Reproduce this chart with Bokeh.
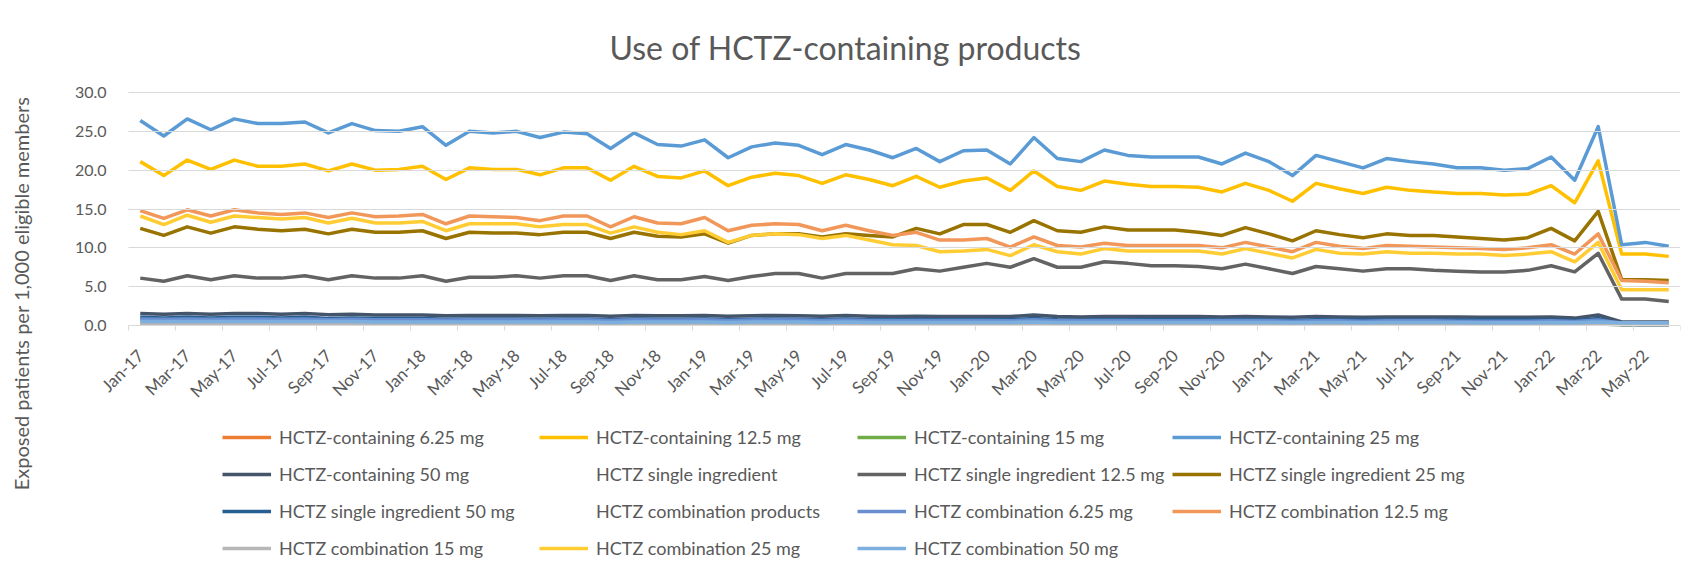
import math
from bokeh.plotting import figure
from bokeh.models import (ColumnDataSource, Range1d, FixedTicker, NumeralTickFormatter,
                          Legend, LegendItem, Label)
from bokeh.embed import file_html
from bokeh.resources import INLINE

# ---------------- data ----------------
MONTHS = ["Jan", "Feb", "Mar", "Apr", "May", "Jun", "Jul", "Aug", "Sep", "Oct", "Nov", "Dec"]
month_labels = [f"{m}-{y}" for y in range(17, 23) for m in MONTHS][:66]   # Jan-17 .. Jun-22
y_ticks = [0, 5, 10, 15, 20, 25, 30]

containing_6_25 = [0.85, 0.8, 0.85, 0.8, 0.85, 0.85, 0.8, 0.85, 0.75, 0.8, 0.75,
                   0.75, 0.75, 0.7, 0.75, 0.75, 0.75, 0.7, 0.75, 0.75, 0.65, 0.75,
                   0.7, 0.7, 0.75, 0.65, 0.7, 0.75, 0.7, 0.65, 0.7, 0.65, 0.65,
                   0.65, 0.65, 0.65, 0.65, 0.6, 0.75, 0.6, 0.6, 0.65, 0.65, 0.6,
                   0.6, 0.6, 0.6, 0.65, 0.6, 0.55, 0.6, 0.6, 0.55, 0.6, 0.6,
                   0.6, 0.55, 0.55, 0.55, 0.55, 0.6, 0.5, 0.7, 0.3, 0.3, 0.3]
containing_12_5 = [21.1, 19.3, 21.3, 20.1, 21.3, 20.5, 20.5, 20.8, 19.9, 20.8, 20.0,
                   20.1, 20.5, 18.8, 20.3, 20.1, 20.1, 19.4, 20.3, 20.3, 18.7, 20.5,
                   19.2, 19.0, 19.9, 18.0, 19.1, 19.6, 19.3, 18.3, 19.4, 18.8, 18.0,
                   19.2, 17.8, 18.6, 19.0, 17.4, 19.9, 17.9, 17.4, 18.6, 18.2, 17.9,
                   17.9, 17.8, 17.2, 18.3, 17.4, 16.0, 18.3, 17.6, 17.0, 17.8, 17.4,
                   17.2, 17.0, 17.0, 16.8, 16.9, 18.0, 15.8, 21.2, 9.2, 9.2, 8.9]
containing_15 = [0.2, 0.2, 0.2, 0.2, 0.2, 0.2, 0.2, 0.2, 0.2, 0.2, 0.2,
                 0.2, 0.2, 0.2, 0.2, 0.2, 0.2, 0.2, 0.2, 0.2, 0.15, 0.2,
                 0.2, 0.2, 0.2, 0.15, 0.2, 0.2, 0.2, 0.15, 0.2, 0.15, 0.15,
                 0.15, 0.15, 0.15, 0.15, 0.15, 0.2, 0.15, 0.15, 0.15, 0.15, 0.15,
                 0.15, 0.15, 0.15, 0.15, 0.15, 0.15, 0.15, 0.15, 0.15, 0.15, 0.15,
                 0.15, 0.15, 0.15, 0.15, 0.15, 0.15, 0.15, 0.2, 0.1, 0.1, 0.1]
containing_25 = [26.4, 24.4, 26.6, 25.2, 26.6, 26.0, 26.0, 26.2, 24.8, 26.0, 25.1,
                 25.0, 25.6, 23.2, 25.0, 24.8, 25.0, 24.2, 24.9, 24.7, 22.8, 24.8,
                 23.3, 23.1, 23.9, 21.6, 23.0, 23.5, 23.2, 22.0, 23.3, 22.6, 21.6,
                 22.8, 21.1, 22.5, 22.6, 20.8, 24.2, 21.5, 21.1, 22.6, 21.9, 21.7,
                 21.7, 21.7, 20.8, 22.2, 21.1, 19.3, 21.9, 21.1, 20.3, 21.5, 21.1,
                 20.8, 20.3, 20.3, 20.0, 20.2, 21.7, 18.7, 25.6, 10.4, 10.7, 10.2]
containing_50 = [1.55, 1.45, 1.55, 1.45, 1.55, 1.55, 1.45, 1.55, 1.4, 1.45, 1.35,
                 1.35, 1.35, 1.25, 1.3, 1.3, 1.3, 1.25, 1.3, 1.3, 1.2, 1.3,
                 1.25, 1.25, 1.3, 1.2, 1.25, 1.3, 1.25, 1.2, 1.3, 1.2, 1.15,
                 1.2, 1.15, 1.15, 1.15, 1.15, 1.35, 1.15, 1.1, 1.15, 1.15, 1.15,
                 1.15, 1.15, 1.1, 1.15, 1.1, 1.05, 1.15, 1.1, 1.05, 1.1, 1.1,
                 1.1, 1.1, 1.05, 1.05, 1.05, 1.1, 0.95, 1.35, 0.45, 0.45, 0.45]
single_ingredient = []          # series listed in the legend, no line drawn
single_12_5 = [6.1, 5.7, 6.4, 5.9, 6.4, 6.1, 6.1, 6.4, 5.9, 6.4, 6.1,
               6.1, 6.4, 5.7, 6.2, 6.2, 6.4, 6.1, 6.4, 6.4, 5.8, 6.4,
               5.9, 5.9, 6.3, 5.8, 6.3, 6.7, 6.7, 6.1, 6.7, 6.7, 6.7,
               7.3, 7.0, 7.5, 8.0, 7.5, 8.6, 7.5, 7.5, 8.2, 8.0, 7.7,
               7.7, 7.6, 7.3, 7.9, 7.3, 6.7, 7.6, 7.3, 7.0, 7.3, 7.3,
               7.1, 7.0, 6.9, 6.9, 7.1, 7.7, 6.9, 9.3, 3.4, 3.4, 3.1]
single_25 = [12.5, 11.6, 12.7, 11.9, 12.7, 12.4, 12.2, 12.4, 11.8, 12.4, 12.0,
             12.0, 12.2, 11.2, 12.0, 11.9, 11.9, 11.7, 12.0, 12.0, 11.2, 12.0,
             11.5, 11.4, 11.8, 10.6, 11.6, 11.8, 11.8, 11.4, 11.8, 11.6, 11.4,
             12.5, 11.8, 13.0, 13.0, 12.0, 13.5, 12.2, 12.0, 12.7, 12.3, 12.3,
             12.3, 12.0, 11.6, 12.6, 11.8, 10.9, 12.2, 11.7, 11.3, 11.8, 11.6,
             11.6, 11.4, 11.2, 11.0, 11.3, 12.5, 10.9, 14.7, 5.9, 5.9, 5.8]
single_50 = [1.05, 0.95, 1.05, 0.95, 1.05, 1.05, 0.95, 1.05, 0.9, 0.95, 0.9,
             0.9, 0.9, 0.8, 0.85, 0.85, 0.85, 0.8, 0.85, 0.85, 0.75, 0.85,
             0.8, 0.8, 0.85, 0.75, 0.8, 0.85, 0.8, 0.75, 0.85, 0.75, 0.75,
             0.75, 0.75, 0.75, 0.75, 0.75, 0.9, 0.75, 0.7, 0.75, 0.75, 0.75,
             0.75, 0.75, 0.7, 0.75, 0.7, 0.65, 0.75, 0.7, 0.7, 0.7, 0.7,
             0.7, 0.7, 0.7, 0.7, 0.7, 0.7, 0.6, 0.9, 0.1, 0.1, 0.1]
combination_products = []       # series listed in the legend, no line drawn
combination_6_25 = [0.85, 0.8, 0.85, 0.8, 0.85, 0.85, 0.8, 0.85, 0.75, 0.8, 0.75,
                    0.75, 0.75, 0.7, 0.75, 0.75, 0.75, 0.7, 0.75, 0.75, 0.65, 0.75,
                    0.7, 0.7, 0.75, 0.65, 0.7, 0.75, 0.7, 0.65, 0.7, 0.65, 0.65,
                    0.65, 0.65, 0.65, 0.65, 0.6, 0.75, 0.6, 0.6, 0.65, 0.65, 0.6,
                    0.6, 0.6, 0.6, 0.65, 0.6, 0.55, 0.6, 0.6, 0.55, 0.6, 0.6,
                    0.6, 0.55, 0.55, 0.55, 0.55, 0.6, 0.5, 0.7, 0.3, 0.3, 0.3]
combination_12_5 = [14.8, 13.8, 14.9, 14.1, 14.9, 14.5, 14.3, 14.5, 13.9, 14.5, 14.0,
                    14.1, 14.3, 13.1, 14.1, 14.0, 13.9, 13.5, 14.1, 14.1, 12.7, 14.0,
                    13.2, 13.1, 13.9, 12.2, 12.9, 13.1, 13.0, 12.2, 12.9, 12.2, 11.6,
                    12.0, 11.0, 11.0, 11.2, 10.1, 11.4, 10.3, 10.1, 10.6, 10.3, 10.3,
                    10.3, 10.3, 10.0, 10.7, 10.1, 9.5, 10.7, 10.2, 9.9, 10.3, 10.2,
                    10.1, 10.0, 9.9, 9.8, 10.0, 10.4, 9.2, 11.8, 5.8, 5.7, 5.5]
combination_15 = [0.2, 0.2, 0.2, 0.2, 0.2, 0.2, 0.2, 0.2, 0.2, 0.2, 0.2,
                  0.2, 0.2, 0.2, 0.2, 0.2, 0.2, 0.2, 0.2, 0.2, 0.15, 0.2,
                  0.2, 0.2, 0.2, 0.15, 0.2, 0.2, 0.2, 0.15, 0.2, 0.15, 0.15,
                  0.15, 0.15, 0.15, 0.15, 0.15, 0.2, 0.15, 0.15, 0.15, 0.15, 0.15,
                  0.15, 0.15, 0.15, 0.15, 0.15, 0.15, 0.15, 0.15, 0.15, 0.15, 0.15,
                  0.15, 0.15, 0.15, 0.15, 0.15, 0.15, 0.15, 0.2, 0.1, 0.1, 0.1]
combination_25 = [14.1, 13.0, 14.2, 13.3, 14.1, 13.9, 13.7, 13.9, 13.2, 13.8, 13.2,
                  13.2, 13.4, 12.2, 13.1, 13.1, 13.1, 12.7, 13.0, 13.0, 11.9, 12.7,
                  12.0, 11.7, 12.2, 10.7, 11.6, 11.8, 11.7, 11.2, 11.6, 11.0, 10.4,
                  10.3, 9.5, 9.6, 9.8, 9.0, 10.4, 9.5, 9.2, 9.9, 9.6, 9.6,
                  9.6, 9.6, 9.2, 9.9, 9.3, 8.7, 9.8, 9.3, 9.2, 9.5, 9.3,
                  9.3, 9.2, 9.2, 9.0, 9.2, 9.5, 8.2, 10.7, 4.6, 4.6, 4.6]
combination_50 = [0.5, 0.5, 0.5, 0.5, 0.5, 0.5, 0.5, 0.5, 0.5, 0.5, 0.45,
                  0.45, 0.45, 0.45, 0.45, 0.45, 0.45, 0.45, 0.45, 0.45, 0.4, 0.45,
                  0.45, 0.45, 0.45, 0.4, 0.45, 0.45, 0.45, 0.4, 0.45, 0.4, 0.4,
                  0.4, 0.4, 0.4, 0.4, 0.4, 0.45, 0.4, 0.4, 0.4, 0.4, 0.4,
                  0.4, 0.4, 0.4, 0.4, 0.4, 0.35, 0.4, 0.4, 0.35, 0.4, 0.4,
                  0.4, 0.4, 0.35, 0.35, 0.35, 0.4, 0.35, 0.45, 0.35, 0.35, 0.35]

series = [
    ("HCTZ-containing 6.25 mg", "#ED7D31", containing_6_25),
    ("HCTZ-containing 12.5 mg", "#FFC000", containing_12_5),
    ("HCTZ-containing 15 mg", "#70AD47", containing_15),
    ("HCTZ-containing 25 mg", "#5B9BD5", containing_25),
    ("HCTZ-containing 50 mg", "#44546A", containing_50),
    ("HCTZ single ingredient", "#9E480E", single_ingredient),
    ("HCTZ single ingredient 12.5 mg", "#636363", single_12_5),
    ("HCTZ single ingredient 25 mg", "#997300", single_25),
    ("HCTZ single ingredient 50 mg", "#255E91", single_50),
    ("HCTZ combination products", "#43682B", combination_products),
    ("HCTZ combination 6.25 mg", "#698ED0", combination_6_25),
    ("HCTZ combination 12.5 mg", "#F1975A", combination_12_5),
    ("HCTZ combination 15 mg", "#B7B7B7", combination_15),
    ("HCTZ combination 25 mg", "#FFCD33", combination_25),
    ("HCTZ combination 50 mg", "#7CAFDD", combination_50),
]

# ---------------- layout constants (pixels) ----------------
FONT = "Lato"
TXT = "#595959"
GRID = "#D9D9D9"
W, H = 1685, 566
PLOT_TOP, PLOT_BOTTOM = 92, 325      # pixel rows of the values 30 and 0
PLOT_L, PLOT_R = 128, 1680
Y_MAX = 30
N = len(month_labels)
month_px = (PLOT_R - PLOT_L) / N
px_per_unit = (PLOT_BOTTOM - PLOT_TOP) / Y_MAX
# The frame covers the whole canvas so that no text is clipped; the axes are
# drawn at fixed positions inside it.
x_start = -0.5 - PLOT_L / month_px
y_hi = Y_MAX + PLOT_TOP / px_per_unit
y_lo = -(H - PLOT_BOTTOM) / px_per_unit

p = figure(width=W, height=H, output_backend="svg", toolbar_location=None,
           x_range=Range1d(x_start, N - 0.5), y_range=Range1d(y_lo, y_hi),
           min_border_left=0, min_border_right=W - PLOT_R, min_border_top=0,
           min_border_bottom=0, title=None)
p.outline_line_color = None
p.background_fill_color = "white"
p.border_fill_color = "white"
p.xgrid.visible = False
p.ygrid.visible = False

# x axis at value 0: labels every 2 months, tick marks between categories
p.xaxis.fixed_location = 0
p.xaxis.bounds = (-0.5, N - 0.5)
p.xaxis.ticker = FixedTicker(ticks=list(range(0, N, 2)),
                             minor_ticks=[i - 0.5 for i in range(0, N + 1, 2)])
p.xaxis.major_label_overrides = {i: month_labels[i] for i in range(0, N, 2)}
p.xaxis.major_label_orientation = math.pi / 4
p.xaxis.major_label_standoff = 22
p.xaxis.major_tick_out = 0
p.xaxis.major_tick_in = 0
p.xaxis.minor_tick_out = 5
p.xaxis.minor_tick_in = 0
p.xaxis.minor_tick_line_color = GRID
p.xaxis.axis_line_color = GRID
p.xaxis.major_label_text_font = FONT
p.xaxis.major_label_text_font_size = "17px"
p.xaxis.major_label_text_color = TXT

# y axis at the plot's left edge; its inward ticks form the horizontal gridlines
p.yaxis.fixed_location = -0.5
p.yaxis.bounds = (0, Y_MAX)
p.yaxis.ticker = FixedTicker(ticks=y_ticks)
p.yaxis.formatter = NumeralTickFormatter(format="0.0")
p.yaxis.axis_line_color = None
p.yaxis.major_tick_out = 0
p.yaxis.major_tick_in = PLOT_R - PLOT_L
p.yaxis.major_tick_line_color = GRID
p.yaxis.major_tick_line_width = 1
p.yaxis.minor_tick_out = 0
p.yaxis.minor_tick_in = 0
p.yaxis.major_label_standoff = 22
p.yaxis.major_label_text_font = FONT
p.yaxis.major_label_text_font_size = "16px"
p.yaxis.major_label_text_color = TXT

items = []
for name, color, vals in series:
    src = ColumnDataSource(dict(x=list(range(len(vals))), y=vals))
    r = p.line(x="x", y="y", source=src, line_color=color, line_width=3.5, line_join="round")
    items.append(LegendItem(label=name, renderers=[r]))

# chart title
p.add_layout(Label(x=845, y=H - 47, x_units="screen", y_units="screen",
                   text="Use of HCTZ-containing products", text_align="center",
                   text_baseline="middle", text_font=FONT, text_font_size="32px",
                   text_color=TXT))
# vertical axis title
p.add_layout(Label(x=20, y=H - 293, x_units="screen", y_units="screen",
                   text="Exposed patients per 1,000 eligible members", angle=math.pi / 2,
                   text_align="center", text_baseline="middle", text_font=FONT,
                   text_font_size="20px", text_color=TXT))

# legend under the axis: 4 columns, items filled row by row
col_x = [222, 539, 857, 1172]
ITEM_H, SP = 22, 15
for j in range(4):
    col_items = [items[k] for k in range(j, len(items), 4)]
    n = len(col_items)
    height = n * ITEM_H + (n - 1) * SP
    bottom_gap = H - (426 + height)
    leg = Legend(items=col_items, location=(col_x[j], bottom_gap),
                 orientation="vertical", glyph_width=49, glyph_height=20, label_height=20,
                 label_standoff=8, spacing=SP, padding=0, margin=0,
                 border_line_color=None, background_fill_alpha=0,
                 label_text_font=FONT, label_text_font_size="18px", label_text_color=TXT)
    p.add_layout(leg)

open("out.html", "w").write(file_html(p, INLINE))
